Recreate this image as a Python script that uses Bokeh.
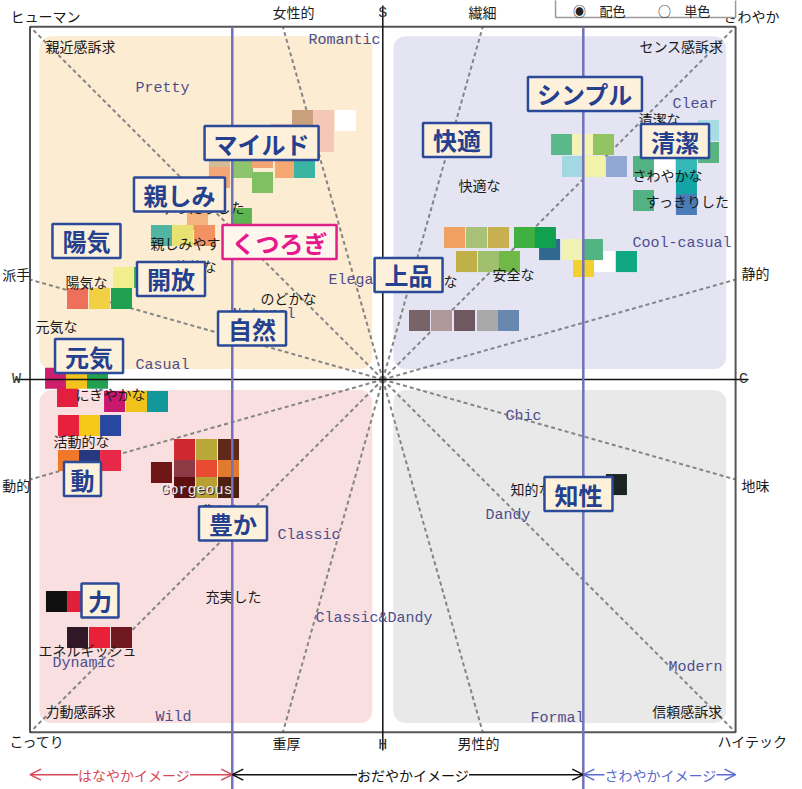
from bokeh.plotting import figure
from bokeh.models import Range1d, Arrow, OpenHead, Label
from bokeh.core.properties import value
from bokeh.embed import file_html
from bokeh.resources import INLINE

JP = "Noto Sans CJK JP"
MONO = "Liberation Mono"

# ---------------- data (image scale: WARM -3 .. COOL +3, HARD -3 .. SOFT +3) ----------------
QUAD_GAP, QUAD_EDGE = 0.09, 2.92
QUAD_COLORS = ["#FCECD2", "#E4E4F3", "#F9DFDF", "#E9E9E9"]  # TL, TR, BL, BR

RAY_X = [-3, -0.85, 0.85, 3, 3, 3, 3, 0.85, -0.85, -3, -3, -3]
RAY_Y = [3, 3, 3, 3, 0.85, -0.85, -3, -3, -3, -3, -0.85, 0.85]

POLES = ["S", "H", "W", "C"]
POLE_X = [0, 0, -3.115, 3.067]
POLE_Y = [3.112, -3.112, 0, 0]

EDGE_WORDS = ["ヒューマン", "女性的", "繊細", "さわやか", "派手", "静的", "動的", "地味",
              "こってり", "重厚", "男性的", "ハイテック"]
EDGE_X = [-2.868, -0.760, 0.848, 3.135, -3.118, 3.169, -3.118, 3.169, -2.936, -0.819, 0.814, 3.144]
EDGE_Y = [3.095, 3.129, 3.129, 3.095, 0.901, 0.910, -0.901, -0.901, -3.070, -3.087, -3.087, -3.070]

APPEALS = ["親近感訴求", "センス感訴求", "力動感訴求", "信頼感訴求"]
APPEAL_X = [-2.571, 2.539, -2.571, 2.588]
APPEAL_Y = [2.840, 2.840, -2.815, -2.815]

IMAGE_WORDS = ["Romantic", "Pretty", "Clear", "Cool-casual", "Elegant", "Natural", "Casual", "Chic",
               "Dandy", "Classic", "Classic&Dandy", "Dynamic", "Wild", "Formal", "Modern"]
IW_X = [-0.632, -2.103, 2.463, 2.123, -0.462, -1.278, -2.103, 1.043,
        0.873, -0.895, -0.572, -2.809, -1.933, 1.256, 2.429]
IW_Y = [2.883, 2.474, 2.338, 1.156, 0.842, 0.550, 0.119, -0.315,
        -1.156, -1.327, -2.032, -2.415, -2.874, -2.883, -2.449]
GORGEOUS_X, GORGEOUS_Y = -1.890, -0.944

DESCRIPTORS = ["清潔な", "さわやかな", "すっきりした", "快適な", "安全な", "上品な", "知的な",
               "親しみやすい", "ゆったりした", "開放的な", "のどかな", "陽気な", "元気な",
               "にぎやかな", "活動的な", "充実した", "エネルギッシュ", "豊かな"]
DESC_X = [2.174, 2.123, 2.234, 0.644, 0.933, 0.278, 1.086,
          -1.975, -1.890, -1.890, -1.040, -2.698, -2.953,
          -2.613, -2.800, -1.508, -2.928, -1.550]
DESC_Y = [2.219, 1.735, 1.522, 1.658, 0.901, 0.842, -0.935,
          1.165, 1.471, 0.969, 0.697, 0.833, 0.459,
          -0.119, -0.519, -1.837, -2.296, -1.110]

TILES_MILD = [(-0.683, 2.202, "#C9A07C"), (-0.504, 2.202, "#F6C7B5"), (-0.317, 2.202, "#FFFFFF"),
              (-0.861, 2.083, "#E9BCA6"), (-0.504, 2.024, "#F6C7B5"), (-1.389, 1.896, "#D2BC94"),
              (-1.389, 1.718, "#F4A676"), (-1.193, 1.803, "#8EC46E"), (-1.023, 1.888, "#F3A574"),
              (-1.023, 1.675, "#7EC062"), (-0.827, 1.803, "#F5A872"), (-0.666, 1.803, "#3CB4A4")]
TILES_FRIENDLY = [(-1.576, 1.361, "#F5B27E"), (-1.882, 1.224, "#52B5A4"), (-1.703, 1.224, "#E7E272"),
                  (-1.516, 1.224, "#F29262"), (-1.202, 1.369, "#5DB552")]
TILES_CHEERFUL = [(-2.596, 0.689, "#EE705A"), (-2.409, 0.689, "#F1D043"), (-2.222, 0.689, "#20A050"),
                  (-2.205, 0.867, "#F2EE8C"), (-2.026, 0.867, "#3CAE5C")]
TILES_LIVELY = [(-2.681, -0.145, "#E41E3E"), (-2.783, 0.01, "#CD1F6C"), (-2.605, 0.01, "#F2C21E"),
                (-2.426, 0.01, "#23A150"), (-2.281, -0.187, "#C8186E"), (-2.094, -0.187, "#F1C21B"),
                (-1.916, -0.187, "#12979A")]
TILES_ACTIVE = [(-2.673, -0.391, "#E8203C"), (-2.494, -0.391, "#F8C818"), (-2.315, -0.391, "#2848A0"),
                (-2.673, -0.689, "#F07828"), (-2.494, -0.689, "#283880"), (-2.315, -0.689, "#E82848")]
TILES_GORGEOUS = [(-1.686, -0.757, "#8E3A44"), (-1.499, -0.757, "#E84A32"), (-1.312, -0.757, "#E27A2E"),
                  (-1.686, -0.595, "#D02830"), (-1.499, -0.595, "#B8A838"), (-1.312, -0.595, "#602818"),
                  (-1.686, -0.918, "#5E1010"), (-1.499, -0.918, "#B8A032"), (-1.312, -0.918, "#4E2012"),
                  (-1.882, -0.791, "#6E1616")]
TILES_POWER = [(-2.775, -1.888, "#101010"), (-2.596, -1.888, "#E0203A"), (-2.596, -2.194, "#301828"),
               (-2.409, -2.194, "#E82038"), (-2.222, -2.194, "#701820")]
TILES_ELEGANT = [(0.312, 0.502, "#786468"), (0.499, 0.502, "#B09898"), (0.695, 0.502, "#705860"),
                 (0.890, 0.502, "#A8A8A8"), (1.069, 0.502, "#6888B0")]
TILES_SAFE = [(1.707, 0.961, "#F2D030"), (1.885, 1.003, "#FFFFFF"), (2.072, 1.003, "#10A880"),
              (1.418, 1.105, "#306890"), (1.605, 1.105, "#F2F2B4"), (1.783, 1.105, "#52B482"),
              (0.610, 1.207, "#F0A060"), (0.797, 1.207, "#A8C078"), (0.984, 1.207, "#C8B050"),
              (1.205, 1.207, "#40B040"), (1.383, 1.207, "#10A050"), (0.712, 1.003, "#C0B048"),
              (0.899, 1.003, "#A0C070"), (1.077, 1.003, "#70B848")]
TILES_COMFORT = [(1.520, 1.998, "#5AB98A"), (1.698, 1.998, "#F4F2B4"), (1.877, 1.998, "#93C462"),
                 (1.613, 1.811, "#A3D8E2"), (1.800, 1.811, "#F2F2A8"), (1.987, 1.811, "#92A8D4")]
TILES_CLEAN = [(2.770, 2.117, "#A8DCE4"), (2.770, 1.930, "#5AB380"), (2.217, 1.811, "#52B283"),
               (2.395, 1.811, "#FFFFFF"), (2.582, 1.811, "#34B9B6"), (2.582, 1.658, "#12A5A5"),
               (2.217, 1.522, "#52B283"), (2.582, 1.488, "#4A7CB8")]
TILES_INTELLECT = [(1.613, -0.910, "#5A8A88"), (1.800, -0.901, "#F4F4F4"), (1.987, -0.893, "#1A2422")]
TILE_GROUPS = [TILES_MILD, TILES_FRIENDLY, TILES_CHEERFUL, TILES_LIVELY, TILES_ACTIVE, TILES_GORGEOUS,
               TILES_POWER, TILES_ELEGANT, TILES_SAFE, TILES_COMFORT, TILES_CLEAN, TILES_INTELLECT]

KEYWORDS = ["マイルド", "親しみ", "陽気", "開放", "くつろぎ", "自然", "元気", "動", "豊か", "力",
            "快適", "シンプル", "清潔", "上品", "知性"]
KW_X = [-1.031, -1.729, -2.520, -1.801, -0.878, -1.112, -2.498, -2.554, -1.274, -2.405,
        0.631, 1.719, 2.485, 0.219, 1.664]
KW_Y = [2.011, 1.573, 1.178, 0.855, 1.169, 0.434, 0.200, -0.846, -1.224, -1.879,
        2.037, 2.428, 2.028, 0.889, -0.974]
KW_HIGHLIGHT = "くつろぎ"

GROUP_BOUNDS = [-1.28, 1.705]
GROUP_NAMES = ["はなやかイメージ", "おだやかイメージ", "さわやかイメージ"]
GROUP_COLORS = ["#D84858", "#111111", "#5A6AD0"]
GROUP_LABEL_X = [-2.116, 0.257, 2.361]
ARROW_Y = -3.36

LEGEND_ITEMS = ["◉", "配色", "○", "単色"]
LEGEND_X = [1.673, 1.953, 2.395, 2.675]
LEGEND_Y = 3.14

# ---------------- figure ----------------
p = figure(width=802, height=789, x_range=Range1d(-3.251, 3.569), y_range=Range1d(-3.486, 3.223),
           output_backend="svg", toolbar_location=None, min_border=0,
           x_axis_location=None, y_axis_location=None,
           background_fill_color="white", border_fill_color="white")
p.grid.visible = False
p.outline_line_color = None

g, e = QUAD_GAP, QUAD_EDGE
p.quad(left=[-e, g, -e, g], right=[-g, e, -g, e], top=[e, e, -g, -g], bottom=[g, g, -e, -e],
       fill_color=QUAD_COLORS, line_color=None, border_radius=12)

p.segment(x0=[0] * len(RAY_X), y0=[0] * len(RAY_Y), x1=RAY_X, y1=RAY_Y,
          line_color="#858585", line_width=2, line_dash="4 3")

p.quad(left=-3, right=3, top=3, bottom=-3, fill_color=None, line_color="#555555", line_width=2)

for grp in TILE_GROUPS:
    p.rect(x=[t[0] for t in grp], y=[t[1] for t in grp], width=21, height=21,
           width_units="screen", height_units="screen",
           fill_color=[t[2] for t in grp], line_color=None)

# axes
p.segment(x0=[-3.13, 0], y0=[0, 3.18], x1=[3.11, 0], y1=[0, -3.155], line_color="#111111", line_width=1.5)

p.text(x=DESC_X, y=DESC_Y, text=DESCRIPTORS, text_font=value(JP), text_font_size="14px",
       text_color="#1a1a1a", text_align="left", text_baseline="middle")
p.text(x=IW_X, y=IW_Y, text=IMAGE_WORDS, text_font=value(MONO), text_font_size="15px",
       text_color="#4E4E8C", text_align="left", text_baseline="middle")
p.text(x=[GORGEOUS_X], y=[GORGEOUS_Y], text=["Gorgeous"], text_font=value(MONO), text_font_size="15px",
       text_color="#3a2a3a", text_align="left", text_baseline="middle", x_offset=1, y_offset=1)
p.text(x=[GORGEOUS_X], y=[GORGEOUS_Y], text=["Gorgeous"], text_font=value(MONO), text_font_size="15px",
       text_color="#ECE6EC", text_align="left", text_baseline="middle")

# group boundaries
p.segment(x0=GROUP_BOUNDS, y0=[3.0, 3.0], x1=GROUP_BOUNDS, y1=[-3.6, -3.6],
          line_color="#7272B8", line_width=2.5)

# keyword boxes
kw_w = [37 if len(w) == 1 else 23 * len(w) + 22 for w in KEYWORDS]
kw_line = ["#E0208A" if w == KW_HIGHLIGHT else "#2B4A9A" for w in KEYWORDS]
kw_text = ["#E6198C" if w == KW_HIGHLIGHT else "#24408E" for w in KEYWORDS]
kw_fill = ["#FFF6EE" if w == KW_HIGHLIGHT else "#FDF1DC" for w in KEYWORDS]
p.rect(x=KW_X, y=KW_Y, width=kw_w, height=34, width_units="screen", height_units="screen",
       fill_color=kw_fill, line_color=kw_line, line_width=2.5)
p.text(x=KW_X, y=KW_Y, text=KEYWORDS, text_font=value(JP), text_font_size="24px", text_font_style="bold",
       text_color=kw_text, text_align="center", text_baseline="middle")

# outer labels
p.text(x=EDGE_X, y=EDGE_Y, text=EDGE_WORDS, text_font=value(JP), text_font_size="14px",
       text_color="#1a1a1a", text_align="center", text_baseline="middle")
p.text(x=POLE_X, y=POLE_Y, text=POLES, text_font=value(MONO), text_font_size="15px",
       text_color="#333333", text_align="center", text_baseline="middle")
p.text(x=APPEAL_X, y=APPEAL_Y, text=APPEALS, text_font=value(JP), text_font_size="14px",
       text_color="#1a1a1a", text_align="center", text_baseline="middle")

# radio legend
p.quad(left=1.469, right=3.0, top=3.4, bottom=3.078, fill_color="white", line_color="#9a9a9a", line_width=1.5)
p.text(x=LEGEND_X, y=[LEGEND_Y] * 4, text=LEGEND_ITEMS, text_font=value(JP), text_font_size="13px",
       text_color="#222222", text_align="center", text_baseline="middle")

# bottom arrows
edges = [-3.0] + GROUP_BOUNDS + [3.0]
for i, (name, col, lx) in enumerate(zip(GROUP_NAMES, GROUP_COLORS, GROUP_LABEL_X)):
    p.add_layout(Arrow(x_start=edges[i], y_start=ARROW_Y, x_end=edges[i + 1], y_end=ARROW_Y,
                       start=OpenHead(size=11, line_color=col, line_width=1.5),
                       end=OpenHead(size=11, line_color=col, line_width=1.5),
                       line_color=col, line_width=1.5))
    p.add_layout(Label(x=lx, y=ARROW_Y, text=name, text_align="center", text_baseline="middle",
                       text_color=col, text_font=JP, text_font_size="14px",
                       background_fill_color="white"))

open("out.html", "w").write(file_html(p, INLINE))
